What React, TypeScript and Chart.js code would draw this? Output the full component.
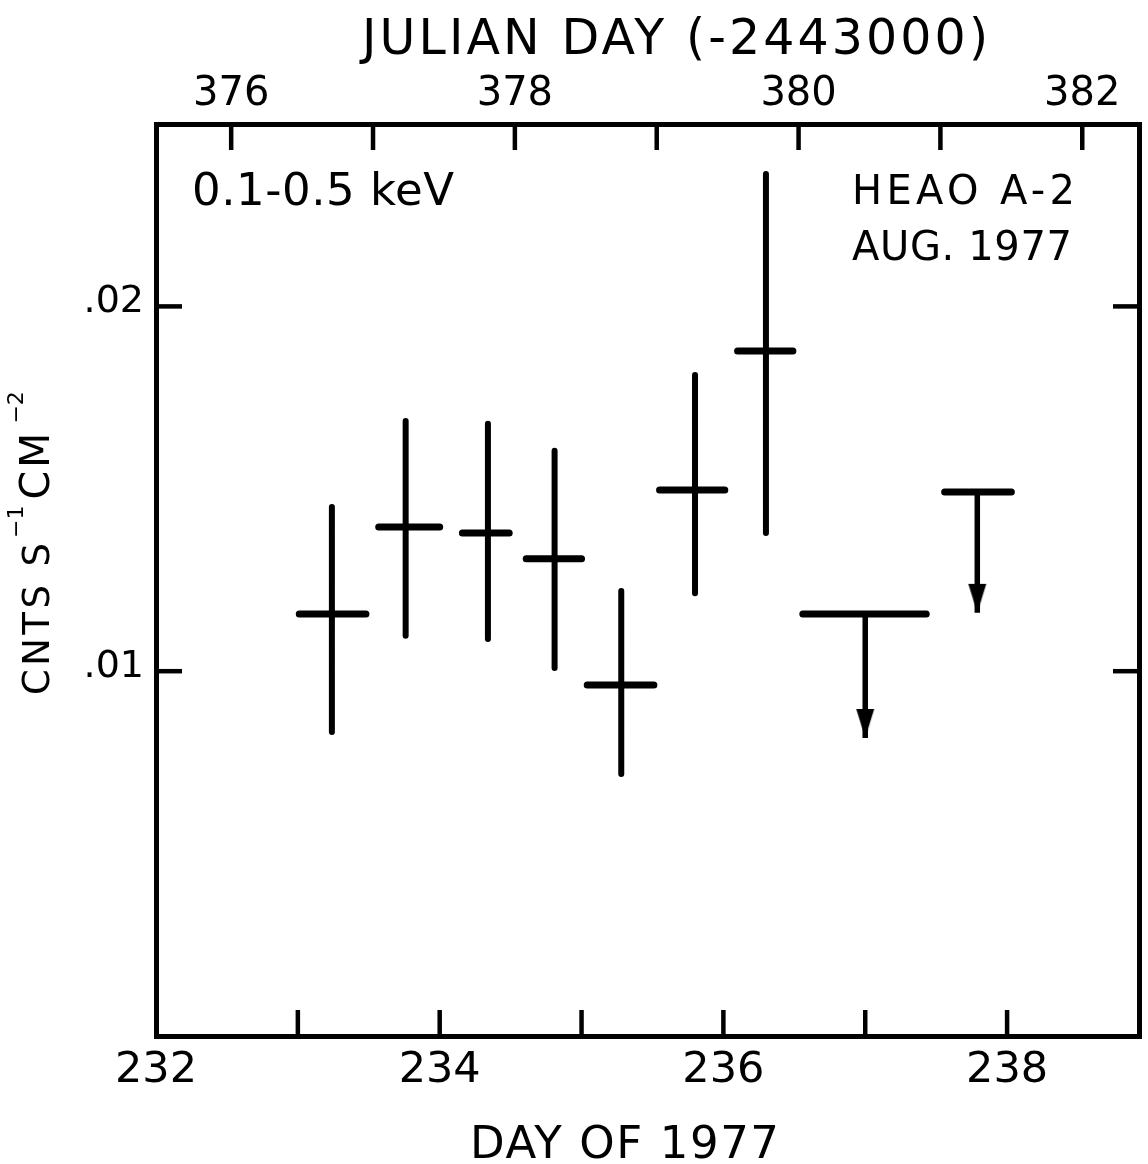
import React, { useEffect, useRef } from 'react';
import { Chart, registerables } from 'chart.js';

Chart.register(...registerables);

// ---- Data (day of 1977, counts s^-1 cm^-2) ----
const binStart = [233.01, 233.57, 234.16, 234.61, 235.04, 235.55, 236.1];
const binEnd = [233.48, 234.0, 234.49, 235.0, 235.51, 236.01, 236.49];
const binMid = [233.24, 233.76, 234.34, 234.81, 235.28, 235.8, 236.3];
const rate = [0.01157, 0.01395, 0.01379, 0.01308, 0.00962, 0.01497, 0.01878];
const rateHigh = [0.0145, 0.01686, 0.01678, 0.01604, 0.0122, 0.01812, 0.02363];
const rateLow = [0.00833, 0.01097, 0.01088, 0.01009, 0.00718, 0.01214, 0.01379];

// upper limits
const limitStart = [236.56, 237.56];
const limitEnd = [237.43, 238.03];
const limitMid = [237.0, 237.79];
const limitValue = [0.01157, 0.01491];
const limitArrowTip = [0.00817, 0.0116];

// axes
const dayTicks = [232, 233, 234, 235, 236, 237, 238];
const dayTickLabels = ['232', '', '234', '', '236', '', '238'];
const julianTicks = [376, 377, 378, 379, 380, 381, 382];
const julianTickLabels = ['376', '', '378', '', '380', '', '382'];
const rateTicks = [0.01, 0.02];
const rateTickLabels = ['.01', '.02'];

const DAY_MIN = 232;
const DAY_MAX = 238.93;
const JD_OFFSET = 143.47; // JD - 2443000 = day + offset
const RATE_MIN = 0;
const RATE_MAX = 0.025;

const FONT = '"DejaVu Sans", sans-serif';

type Pt = { x: number; y: number | null };

function segments(pairs: Array<[Pt, Pt]>): Pt[] {
  const out: Pt[] = [];
  pairs.forEach(([a, b]) => {
    out.push(a, b, { x: b.x, y: null });
  });
  return out;
}

function makeArrowHead(): HTMLCanvasElement {
  const c = document.createElement('canvas');
  c.width = 20;
  c.height = 62;
  const g = c.getContext('2d')!;
  g.fillStyle = '#000';
  g.beginPath();
  g.moveTo(1, 2);
  g.lineTo(19, 2);
  g.lineTo(10, 31);
  g.closePath();
  g.fill();
  return c;
}

function drawText(
  ctx: CanvasRenderingContext2D,
  text: string,
  x: number,
  y: number,
  size: number,
  spacing: number
): number {
  ctx.font = `${size}px ${FONT}`;
  const anyCtx = ctx as any;
  if ('letterSpacing' in anyCtx) {
    anyCtx.letterSpacing = `${spacing}px`;
    ctx.fillText(text, x, y);
    const w = ctx.measureText(text).width;
    anyCtx.letterSpacing = '0px';
    return x + w;
  }
  let cx = x;
  for (const ch of text) {
    ctx.fillText(ch, cx, y);
    cx += ctx.measureText(ch).width + spacing;
  }
  return cx;
}

function drawFit(
  ctx: CanvasRenderingContext2D,
  text: string,
  left: number,
  right: number,
  baseline: number,
  size: number
): number {
  ctx.font = `${size}px ${FONT}`;
  const anyCtx = ctx as any;
  if ('letterSpacing' in anyCtx) anyCtx.letterSpacing = '0px';
  const w0 = ctx.measureText(text).width;
  const n = Array.from(text).length;
  const spacing = n > 1 ? (right - left - w0) / (n - 1) : 0;
  return drawText(ctx, text, left, baseline, size, spacing);
}

const figurePlugin = {
  id: 'figureDecor',
  beforeDraw(chart: any) {
    const { ctx, width, height } = chart;
    ctx.save();
    ctx.fillStyle = '#fff';
    ctx.fillRect(0, 0, width, height);
    ctx.restore();
  },
  afterDraw(chart: any) {
    const { ctx, chartArea: a, scales } = chart;
    const L = 26;
    ctx.save();
    ctx.strokeStyle = '#000';
    ctx.lineWidth = 4.5;
    ctx.lineCap = 'butt';
    const line = (x1: number, y1: number, x2: number, y2: number) => {
      ctx.beginPath();
      ctx.moveTo(x1, y1);
      ctx.lineTo(x2, y2);
      ctx.stroke();
    };
    scales.x.ticks.forEach((t: any) => {
      const p = scales.x.getPixelForValue(t.value);
      if (p > a.left + 3) line(p, a.bottom, p, a.bottom - L);
    });
    scales.x2.ticks.forEach((t: any) => {
      const p = scales.x2.getPixelForValue(t.value);
      line(p, a.top, p, a.top + L);
    });
    scales.y.ticks.forEach((t: any) => {
      const p = scales.y.getPixelForValue(t.value);
      line(a.left, p, a.left + L, p);
    });
    scales.y2.ticks.forEach((t: any) => {
      const p = scales.y2.getPixelForValue(t.value);
      line(a.right, p, a.right - L, p);
    });

    // texts
    ctx.fillStyle = '#000';
    ctx.textAlign = 'left';
    ctx.textBaseline = 'alphabetic';
    drawFit(ctx, 'JULIAN DAY (-2443000)', 362, 988, 54, 49);
    drawFit(ctx, 'DAY OF 1977', 470, 779, 1158, 45);
    drawFit(ctx, '0.1-0.5 keV', 192, 454, 205, 45);
    drawFit(ctx, 'HEAO A-2', 852, 1075, 204, 40);
    drawFit(ctx, 'AUG. 1977', 852, 1072, 260, 40);

    // rotated y-axis title: CNTS S^-1 CM^-2
    ctx.save();
    ctx.translate(49, 695);
    ctx.rotate(-Math.PI / 2);
    drawFit(ctx, 'CNTS S', 0, 152, 0, 37);
    const e1 = drawText(ctx, '\u22121', 157, -26, 22, 0);
    const e2 = drawText(ctx, 'CM', e1 + 6, 0, 41, 3);
    drawText(ctx, '\u22122', e2 + 6, -26, 22, 0);
    ctx.restore();

    ctx.restore();
  },
};

export default function App() {
  const ref = useRef<HTMLCanvasElement>(null);

  useEffect(() => {
    const canvas = ref.current;
    if (!canvas) return;

    const barData = segments(
      rate.map((r, i) => [
        { x: binStart[i], y: r },
        { x: binEnd[i], y: r },
      ] as [Pt, Pt])
    );
    const errData = segments(
      rate.map((_r, i) => [
        { x: binMid[i], y: rateLow[i] },
        { x: binMid[i], y: rateHigh[i] },
      ] as [Pt, Pt])
    );
    const limitBarData = segments(
      limitValue.map((v, i) => [
        { x: limitStart[i], y: v },
        { x: limitEnd[i], y: v },
      ] as [Pt, Pt])
    );
    const limitStemData = segments(
      limitValue.map((v, i) => [
        { x: limitMid[i], y: v },
        { x: limitMid[i], y: limitArrowTip[i] },
      ] as [Pt, Pt])
    );
    const arrowData = limitMid.map((x, i) => ({ x, y: limitArrowTip[i] }));
    const arrowHead = makeArrowHead();

    const lineBase = {
      type: 'scatter' as const,
      showLine: true,
      spanGaps: false,
      borderColor: '#000',
      pointRadius: 0,
      pointHoverRadius: 0,
      xAxisID: 'x',
      yAxisID: 'y',
    };

    const tickFont = (size: number) => ({ family: FONT, size });

    const chart = new Chart(canvas, {
      type: 'scatter',
      data: {
        datasets: [
          { ...lineBase, label: 'rate', data: barData, borderWidth: 7, borderCapStyle: 'round' },
          { ...lineBase, label: 'error', data: errData, borderWidth: 6, borderCapStyle: 'round' },
          { ...lineBase, label: 'upper limit', data: limitBarData, borderWidth: 7, borderCapStyle: 'round' },
          { ...lineBase, label: 'limit stem', data: limitStemData, borderWidth: 5.5, borderCapStyle: 'butt' },
          {
            type: 'scatter',
            label: 'arrow',
            data: arrowData,
            showLine: false,
            pointStyle: arrowHead,
            pointRadius: 8,
            pointHoverRadius: 8,
            backgroundColor: '#000',
            borderColor: '#000',
            xAxisID: 'x',
            yAxisID: 'y',
          },
        ] as any,
      },
      options: {
        responsive: false,
        animation: false,
        events: [],
        devicePixelRatio: 1,
        layout: { padding: 0 },
        plugins: {
          legend: { display: false },
          tooltip: { enabled: false },
          title: { display: false },
        },
        scales: {
          x: {
            type: 'linear',
            position: 'bottom',
            min: DAY_MIN,
            max: DAY_MAX,
            afterBuildTicks: (s: any) => {
              s.ticks = dayTicks.map((value) => ({ value }));
            },
            afterFit: (s: any) => {
              s.height = 128;
            },
            ticks: {
              callback: (_v: any, i: number) => dayTickLabels[i],
              font: tickFont(43),
              color: '#000',
              padding: 9,
              maxRotation: 0,
              autoSkip: false,
            },
            grid: { display: false, drawTicks: false, drawOnChartArea: false, lineWidth: 5 },
            border: { display: true, color: '#000', width: 5 },
          },
          x2: {
            type: 'linear',
            position: 'top',
            min: DAY_MIN + JD_OFFSET,
            max: DAY_MAX + JD_OFFSET,
            afterBuildTicks: (s: any) => {
              s.ticks = julianTicks.map((value) => ({ value }));
            },
            afterFit: (s: any) => {
              s.height = 124;
            },
            ticks: {
              callback: (_v: any, i: number) => julianTickLabels[i],
              font: tickFont(40),
              color: '#000',
              padding: 5,
              maxRotation: 0,
              autoSkip: false,
            },
            grid: { display: false, drawTicks: false, drawOnChartArea: false, lineWidth: 5 },
            border: { display: true, color: '#000', width: 5 },
          },
          y: {
            type: 'linear',
            position: 'left',
            min: RATE_MIN,
            max: RATE_MAX,
            afterBuildTicks: (s: any) => {
              s.ticks = rateTicks.map((value) => ({ value }));
            },
            afterFit: (s: any) => {
              s.width = 156;
            },
            ticks: {
              callback: (_v: any, i: number) => rateTickLabels[i],
              font: tickFont(38),
              color: '#000',
              padding: 12,
              labelOffset: -4,
              autoSkip: false,
            },
            grid: { display: false, drawTicks: false, drawOnChartArea: false, lineWidth: 5 },
            border: { display: true, color: '#000', width: 5 },
          },
          y2: {
            type: 'linear',
            position: 'right',
            min: RATE_MIN,
            max: RATE_MAX,
            afterBuildTicks: (s: any) => {
              s.ticks = rateTicks.map((value) => ({ value }));
            },
            afterFit: (s: any) => {
              s.width = 7;
            },
            ticks: { display: false },
            grid: { display: false, drawTicks: false, drawOnChartArea: false, lineWidth: 5 },
            border: { display: true, color: '#000', width: 5 },
          },
        },
      } as any,
      plugins: [figurePlugin as any],
    });

    return () => {
      chart.destroy();
    };
  }, []);

  return (
    <div
      style={{
        position: 'absolute',
        left: 0,
        top: 0,
        width: 1148,
        height: 1164,
        background: '#fff',
      }}
    >
      <canvas
        ref={ref}
        width={1148}
        height={1164}
        style={{ display: 'block', width: 1148, height: 1164 }}
      />
    </div>
  );
}
